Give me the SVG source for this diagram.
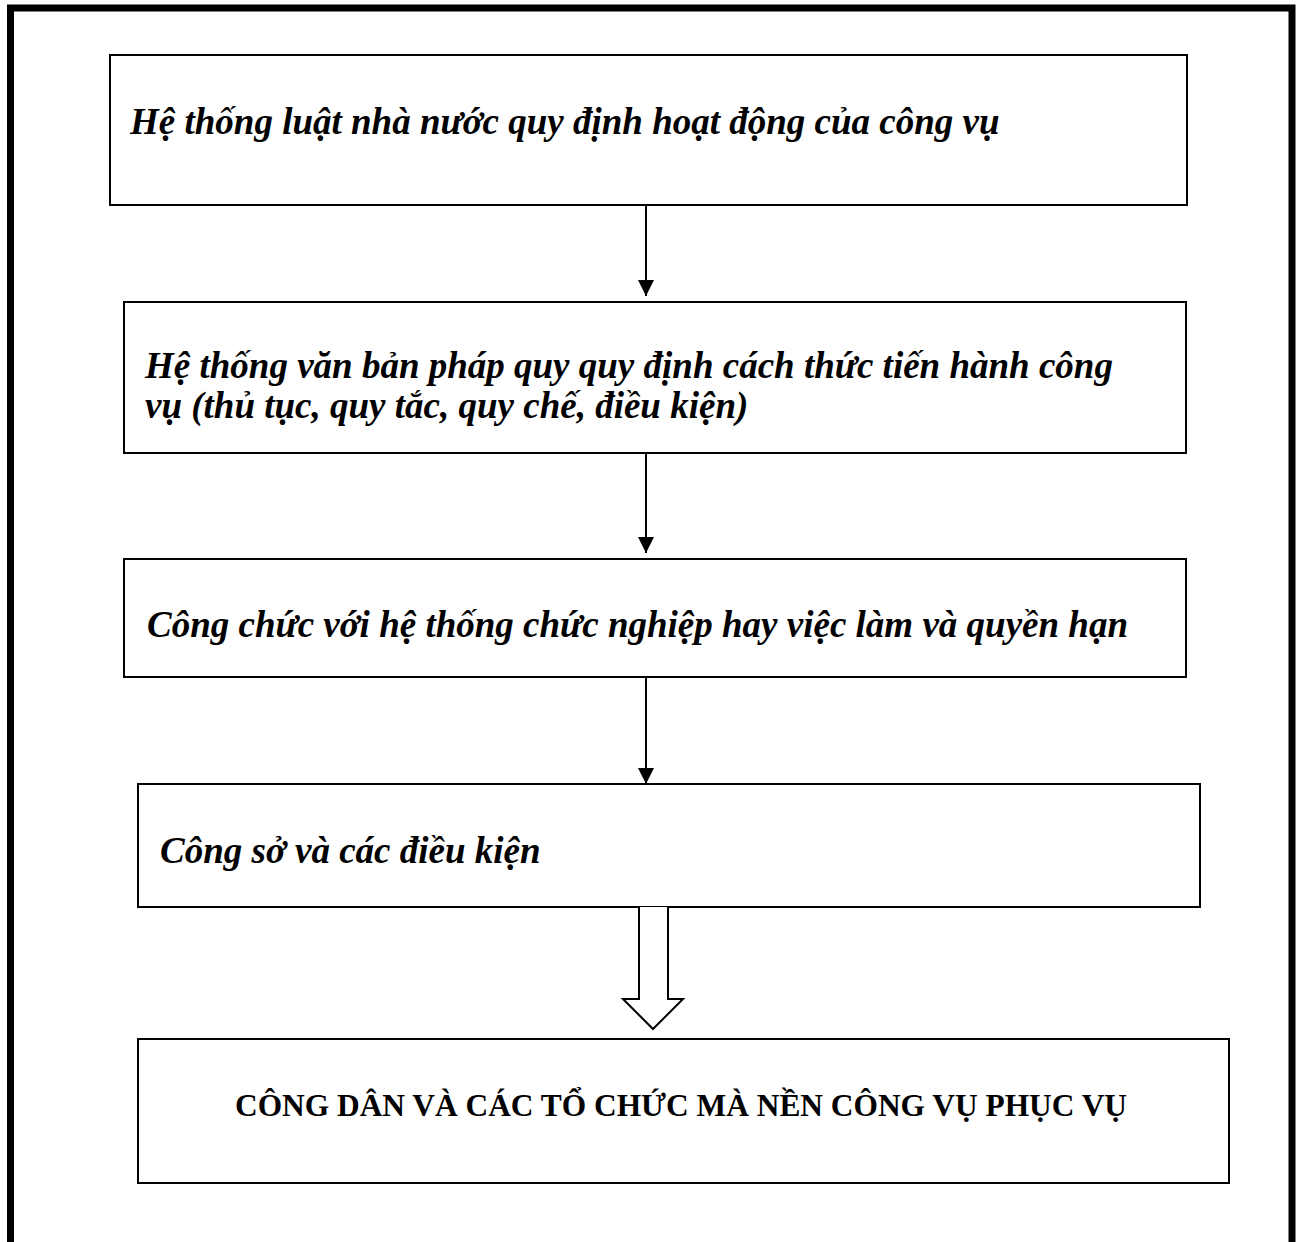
<svg xmlns="http://www.w3.org/2000/svg" width="1296" height="1242" viewBox="0 0 1296 1242">
<defs>
<style>
.box{fill:#fff;stroke:#000;stroke-width:2}
.t{font-family:"Liberation Serif","Times New Roman",serif;font-weight:bold;font-style:italic;font-size:37px;fill:#000}
.c{font-family:"Liberation Serif","Times New Roman",serif;font-weight:bold;font-size:31.4px;fill:#000}
.ln{stroke:#000;stroke-width:2;fill:none}
</style>
<marker id="ah" viewBox="0 0 16 16" refX="16" refY="8" markerWidth="16" markerHeight="16" markerUnits="userSpaceOnUse" orient="auto">
<path d="M0,0 L16,8 L0,16 Z" fill="#000"/>
</marker>
</defs>
<rect width="1296" height="1242" fill="#fff"/>
<path d="M10.5,1242 V8 H1292 V1242" fill="none" stroke="#000" stroke-width="7"/>
<g id="n1"><rect class="box" x="110" y="55" width="1077" height="150"/><text class="t" x="130" y="134">Hệ thống luật nhà nước quy định hoạt động của công vụ</text></g>
<g id="n2"><rect class="box" x="124" y="302" width="1062" height="151"/><text class="t" x="145" y="378">Hệ thống văn bản pháp quy quy định cách thức tiến hành công</text><text class="t" x="145" y="418">vụ (thủ tục, quy tắc, quy chế, điều kiện)</text></g>
<g id="n3"><rect class="box" x="124" y="559" width="1062" height="118"/><text class="t" x="147" y="637">Công chức với hệ thống chức nghiệp hay việc làm và quyền hạn</text></g>
<g id="n4"><rect class="box" x="138" y="784" width="1062" height="123"/><text class="t" x="160" y="863">Công sở và các điều kiện</text></g>
<g id="n5"><rect class="box" x="138" y="1039" width="1091" height="144"/><text class="c" x="235" y="1116">CÔNG DÂN VÀ CÁC TỔ CHỨC MÀ NỀN CÔNG VỤ PHỤC VỤ</text></g>
<g id="connectors">
<line class="ln" x1="646" y1="205" x2="646" y2="296" marker-end="url(#ah)"/>
<line class="ln" x1="646" y1="453" x2="646" y2="553" marker-end="url(#ah)"/>
<line class="ln" x1="646" y1="677" x2="646" y2="784" marker-end="url(#ah)"/>
<path d="M639,907 V999 H623 L653,1029 L683,999 H668 V907" fill="#fff" stroke="#000" stroke-width="2"/>
</g>
</svg>
